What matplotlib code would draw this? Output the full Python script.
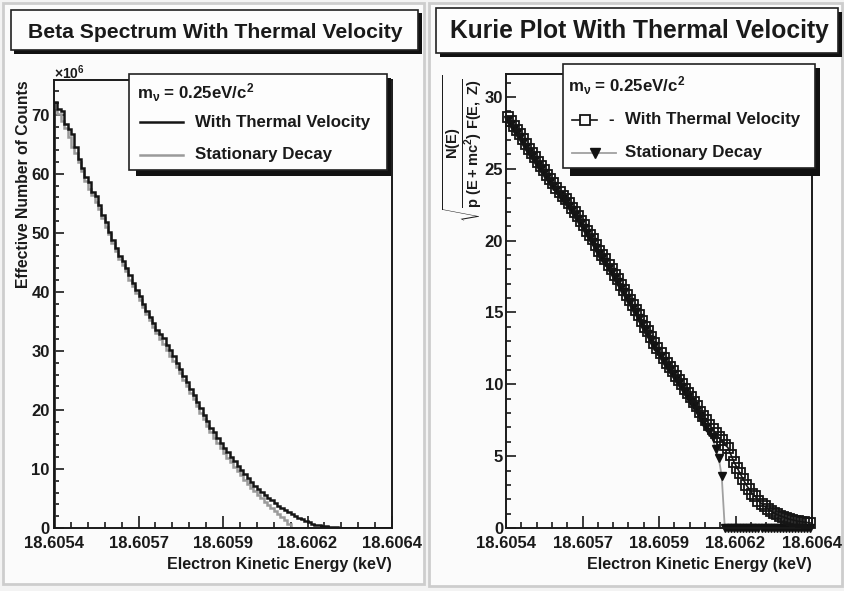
import numpy as np
import matplotlib
matplotlib.use("Agg")
import matplotlib.pyplot as plt
from matplotlib.patches import Rectangle
from matplotlib.lines import Line2D

plt.rcParams['font.family'] = ['Liberation Sans', 'DejaVu Sans']
plt.rcParams['font.weight'] = 'bold'
plt.rcParams['text.color'] = '#1a1a1a'
plt.rcParams['mathtext.fontset'] = 'custom'
for k in ('rm', 'it', 'bf', 'sf'):
    plt.rcParams['mathtext.' + k] = 'Liberation Sans:bold'

# ---------------- data ----------------
e_min, e_max, n_bins = 18.6054, 18.6064, 100
xtick_labels = ['18.6054', '18.6057', '18.6059', '18.6062', '18.6064']

# Beta spectrum (units of 1e6 counts)
beta_thermal = [
    72.2, 71.0, 70.6, 68.5, 67.6, 66.8, 64.6, 62.6, 61.0, 59.5,
    58.6, 57.0, 56.2, 54.8, 53.0, 51.8, 50.2, 48.8, 47.5, 46.0,
    45.2, 44.0, 42.8, 41.5, 40.3, 39.3, 38.0, 36.8, 35.7, 34.8,
    33.6, 32.8, 32.2, 31.0, 30.2, 29.2, 28.0, 27.0, 25.8, 24.8,
    23.6, 22.6, 21.4, 20.3, 19.2, 18.2, 17.0, 16.2, 15.3, 14.4,
    13.6, 12.9, 12.1, 11.4, 10.5, 9.8, 9.2, 8.5, 7.8, 7.2,
    6.6, 6.1, 5.6, 5.1, 4.7, 4.2, 3.8, 3.4, 3.0, 2.7,
    2.4, 2.05, 1.75, 1.45, 1.2, 0.95, 0.75, 0.58, 0.45, 0.34,
    0.26, 0.19, 0.14, 0.10, 0.07, 0.05, 0.035, 0.025, 0.015, 0.01,
    0.008, 0.006, 0.005, 0.004, 0.003, 0.002, 0.001, 0.001, 0.0, 0.0]
beta_stationary = [
    70.8, 70.2, 69.0, 67.8, 66.2, 64.6, 63.5, 62.0, 60.5, 58.8,
    57.5, 56.5, 55.2, 54.0, 52.5, 51.0, 49.8, 48.2, 47.0, 45.6,
    44.5, 43.5, 42.0, 41.0, 39.8, 38.6, 37.5, 36.3, 35.2, 34.0,
    33.0, 32.0, 31.2, 30.2, 29.2, 28.3, 27.2, 26.2, 25.0, 24.0,
    22.8, 21.8, 20.6, 19.5, 18.4, 17.3, 16.2, 15.3, 14.4, 13.5,
    12.7, 11.9, 11.1, 10.4, 9.6, 8.9, 8.2, 7.5, 6.8, 6.2,
    5.6, 5.0, 4.4, 3.9, 3.4, 2.9, 2.4, 1.9, 1.3, 0.6,
    0, 0, 0, 0, 0, 0, 0, 0, 0, 0,
    0, 0, 0, 0, 0, 0, 0, 0, 0, 0,
    0, 0, 0, 0, 0, 0, 0, 0, 0, 0]

# Kurie plot values
kurie_thermal = [
    28.6, 28.3, 28.0, 27.7, 27.4, 27.1, 26.7, 26.4, 26.1, 25.8,
    25.5, 25.2, 24.9, 24.6, 24.3, 24.0, 23.7, 23.4, 23.1, 22.9,
    22.6, 22.3, 22.0, 21.7, 21.4, 21.1, 20.7, 20.4, 20.1, 19.7,
    19.3, 19.0, 18.7, 18.3, 18.0, 17.6, 17.3, 16.9, 16.6, 16.2,
    15.9, 15.5, 15.2, 14.8, 14.4, 14.0, 13.7, 13.3, 12.9, 12.5,
    12.2, 11.8, 11.5, 11.2, 10.9, 10.6, 10.3, 10.0, 9.7, 9.4,
    9.1, 8.8, 8.5, 8.1, 7.8, 7.5, 7.2, 6.9, 6.6, 6.3,
    6.1, 5.8, 5.6, 5.1, 4.6, 4.2, 3.8, 3.4, 3.0, 2.7,
    2.4, 2.2, 1.9, 1.7, 1.5, 1.35, 1.2, 1.05, 0.95, 0.85,
    0.78, 0.70, 0.62, 0.57, 0.52, 0.47, 0.44, 0.41, 0.38, 0.35]
kurie_stationary = [
    28.4, 28.1, 27.8, 27.5, 27.2, 26.9, 26.5, 26.2, 25.9, 25.6,
    25.3, 25.0, 24.7, 24.4, 24.1, 23.8, 23.5, 23.2, 22.9, 22.7,
    22.4, 22.1, 21.8, 21.5, 21.2, 20.9, 20.5, 20.2, 19.9, 19.5,
    19.1, 18.8, 18.5, 18.1, 17.8, 17.4, 17.1, 16.7, 16.4, 16.0,
    15.7, 15.3, 15.0, 14.6, 14.2, 13.8, 13.5, 13.1, 12.7, 12.3,
    12.0, 11.6, 11.3, 11.0, 10.7, 10.4, 10.1, 9.8, 9.5, 9.1,
    8.8, 8.5, 8.2, 7.8, 7.4, 7.0, 6.7, 6.3, 5.5, 4.9,
    3.6, 0, 0, 0, 0, 0, 0, 0, 0, 0,
    0, 0, 0, 0, 0, 0, 0, 0, 0, 0,
    0, 0, 0, 0, 0, 0, 0, 0, 0, 0]

# ---------------- layout helpers ----------------
W, H = 844, 591
def fx(px): return px / W
def fy(py): return 1 - py / H

fig = plt.figure(figsize=(W / 100, H / 100), dpi=100)
fig.patch.set_facecolor('#f3f3f3')

def frect(x0, y0, x1, y1, **kw):
    r = Rectangle((fx(x0), fy(y1)), fx(x1) - fx(x0), fy(y0) - fy(y1),
                  transform=fig.transFigure, **kw)
    fig.add_artist(r)
    return r

# pads
frect(3, 3, 424, 584, facecolor='#fbfbfb', edgecolor='#cdcdcd', lw=2, zorder=-5)
frect(429, 3, 842, 586, facecolor='#fbfbfb', edgecolor='#cdcdcd', lw=2, zorder=-5)

edges = np.linspace(e_min, e_max, n_bins + 1)
centers = 0.5 * (edges[:-1] + edges[1:])
major = np.linspace(e_min, e_max, 5)
minor = np.linspace(e_min, e_max, 21)

def style_axes(ax, ymax, ymaj, ymin_step, ypad):
    ax.set_facecolor('none')
    ax.set_xlim(e_min, e_max)
    ax.set_ylim(0, ymax)
    ax.set_xticks(major, xtick_labels)
    ax.set_xticks(minor, minor=True)
    ax.set_yticks(np.arange(0, ymax, ymaj))
    ax.set_yticks(np.arange(0, ymax, ymin_step), minor=True)
    ax.tick_params(axis='both', which='both', direction='in', width=1.2,
                   top=False, right=False, labelsize=12, colors='#1a1a1a')
    ax.tick_params(axis='x', which='major', length=8.5, pad=6)
    ax.tick_params(axis='x', which='minor', length=4.2)
    ax.tick_params(axis='y', which='major', length=7, pad=ypad)
    ax.tick_params(axis='y', which='minor', length=3.5)
    for s in ax.spines.values():
        s.set_linewidth(1.4)
        s.set_color('#1a1a1a')
    for lab in ax.get_xticklabels() + ax.get_yticklabels():
        lab.set_fontweight('bold')

# ---------------- left: beta spectrum ----------------
ax1 = fig.add_axes([fx(54), fy(528), (392 - 54) / W, (528 - 80) / H])
style_axes(ax1, 75.9, 10, 2, 3)
ax1.stairs(beta_stationary, edges, color='#9a9a9a', lw=1.8, zorder=2)
ax1.stairs(beta_thermal, edges, color='#151515', lw=1.8, zorder=3)

fig.text(fx(54), fy(73), r'$\times$10$^{6}$', fontsize=10, ha='left', va='center')
fig.text(fx(24), fy(80), 'Effective Number of Counts', rotation=90,
         fontsize=11.3, ha='center', va='top')
fig.text(fx(392), fy(565), 'Electron Kinetic Energy (keV)', fontsize=11.5,
         ha='right', va='center')

# ---------------- right: Kurie plot ----------------
ax2 = fig.add_axes([fx(506), fy(528), (812 - 506) / W, (528 - 74) / H])
style_axes(ax2, 31.6, 5, 1, 2)
ax2.plot(centers, kurie_stationary, color='#a0a0a0', lw=1.3, marker='v',
         ms=6, mfc='#111111', mec='#111111', clip_on=False, zorder=2)
ax2.plot(centers, kurie_thermal, color='#151515', lw=1.2, marker='s',
         ms=7, mfc='none', mec='#151515', mew=1.3, clip_on=False, zorder=3)

fig.text(fx(463), fy(148),
         r'$\sqrt{\dfrac{N(E)}{p\ (E+mc^{2})\ F(E,\ Z)}}$', rotation=90,
         fontsize=10.5, ha='center', va='center')
fig.text(fx(812), fy(565), 'Electron Kinetic Energy (keV)', fontsize=11.5,
         ha='right', va='center')

# ---------------- title boxes ----------------
frect(14, 13, 422, 54, facecolor='#111111', edgecolor='none', zorder=10)
frect(11, 10, 418, 50, facecolor='#fdfdfd', edgecolor='#222222', lw=1.2, zorder=11)
fig.text(fx(215), fy(32), 'Beta Spectrum With Thermal Velocity', fontsize=15.2,
         ha='center', va='center', zorder=12)
frect(440, 12, 842, 57, facecolor='#111111', edgecolor='none', zorder=10)
frect(436, 8, 838, 53, facecolor='#fdfdfd', edgecolor='#222222', lw=1.2, zorder=11)
fig.text(fx(639), fy(31), 'Kurie Plot With Thermal Velocity', fontsize=17.7,
         ha='center', va='center', zorder=12)

# ---------------- legends ----------------
leg_m = r'm$_{\nu}$ = 0.25eV/c$^{2}$'
fs_leg = 12.2
# left legend
frect(136, 78, 391, 176, facecolor='#111111', edgecolor='none', zorder=10)
frect(129, 74, 387, 170, facecolor='#fdfdfd', edgecolor='#222222', lw=1.2, zorder=11)
fig.text(fx(137), fy(93), leg_m, fontsize=fs_leg, ha='left', va='center', zorder=12)
fig.add_artist(Line2D([fx(140), fx(183)], [fy(122), fy(122)], color='#151515',
                      lw=1.8, transform=fig.transFigure, zorder=12))
fig.text(fx(195), fy(122), 'With Thermal Velocity', fontsize=fs_leg, ha='left',
         va='center', zorder=12)
fig.add_artist(Line2D([fx(140), fx(183)], [fy(155), fy(155)], color='#9a9a9a',
                      lw=1.8, transform=fig.transFigure, zorder=12))
fig.text(fx(195), fy(155), 'Stationary Decay', fontsize=fs_leg, ha='left',
         va='center', zorder=12)

# right legend
frect(570, 68, 820, 176, facecolor='#111111', edgecolor='none', zorder=10)
frect(563, 64, 815, 168, facecolor='#fdfdfd', edgecolor='#222222', lw=1.2, zorder=11)
fig.text(fx(568), fy(86), leg_m, fontsize=fs_leg, ha='left', va='center', zorder=12)
fig.add_artist(Line2D([fx(572), fx(597)], [fy(120), fy(120)], color='#151515',
                      lw=1.2, transform=fig.transFigure, zorder=12))
fig.add_artist(Line2D([fx(585)], [fy(120)], color='#151515', marker='s', ms=7,
                      mfc='#fdfdfd', mec='#151515', mew=1.3,
                      transform=fig.transFigure, zorder=13))
fig.text(fx(608), fy(120), '-', fontsize=fs_leg, ha='left', va='center', zorder=12)
fig.text(fx(625), fy(120), 'With Thermal Velocity', fontsize=fs_leg, ha='left',
         va='center', zorder=12)
fig.add_artist(Line2D([fx(572), fx(616)], [fy(153), fy(153)], color='#a0a0a0',
                      lw=1.3, transform=fig.transFigure, zorder=12))
fig.add_artist(Line2D([fx(595)], [fy(153)], color='#111111', marker='v', ms=6.5,
                      mfc='#111111', mec='#111111',
                      transform=fig.transFigure, zorder=13))
fig.text(fx(625), fy(153), 'Stationary Decay', fontsize=fs_leg, ha='left',
         va='center', zorder=12)

fig.savefig('out.png', dpi=100, facecolor=fig.get_facecolor())
